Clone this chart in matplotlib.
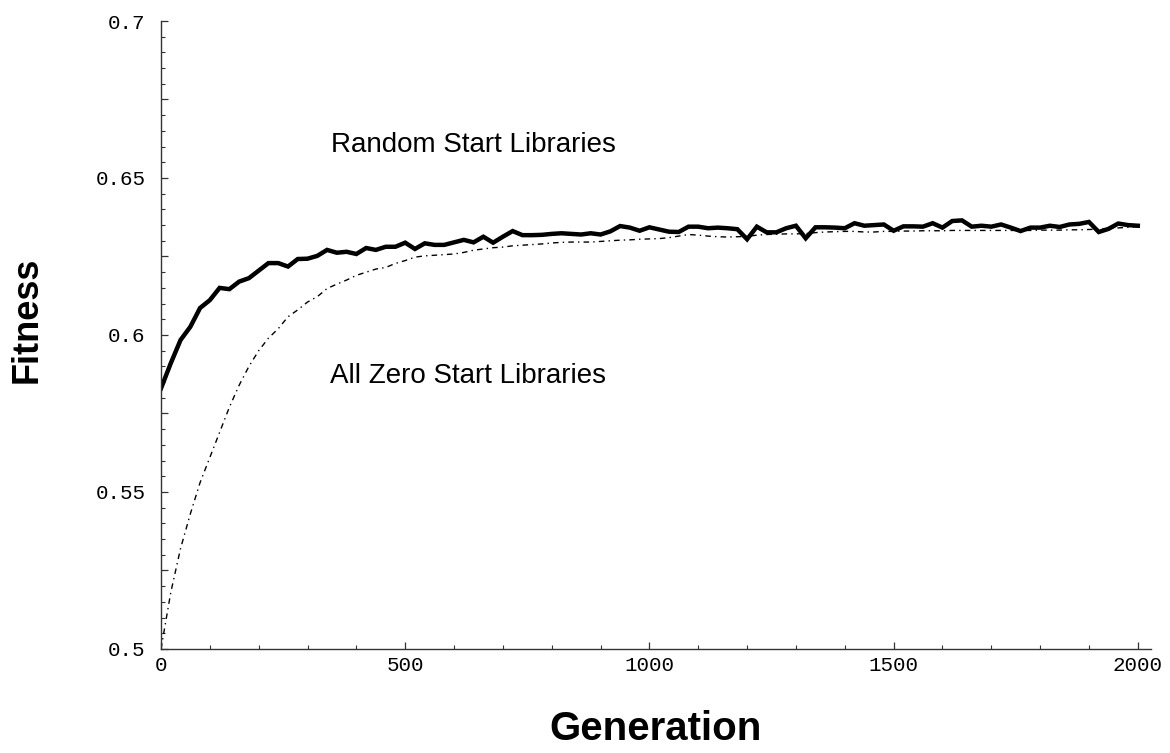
import numpy as np
import matplotlib
matplotlib.use('Agg')
import matplotlib.pyplot as plt
from matplotlib.ticker import MultipleLocator, FuncFormatter

generations = list(range(0, 2001, 20))

random_start = [
    0.5830, 0.5910, 0.5984, 0.6026, 0.6086, 0.6111, 0.6150, 0.6146, 0.6170, 0.6181,
    0.6205, 0.6229, 0.6229, 0.6218, 0.6242, 0.6243, 0.6252, 0.6271, 0.6262, 0.6265,
    0.6258, 0.6277, 0.6271, 0.6281, 0.6281, 0.6294, 0.6274, 0.6292, 0.6287, 0.6287,
    0.6295, 0.6303, 0.6295, 0.6313, 0.6294, 0.6313, 0.6331, 0.6318, 0.6318, 0.6319,
    0.6322, 0.6324, 0.6322, 0.6320, 0.6324, 0.6320, 0.6330, 0.6347, 0.6342, 0.6332,
    0.6343, 0.6336, 0.6329, 0.6328, 0.6345, 0.6345, 0.6340, 0.6342, 0.6340, 0.6337,
    0.6305, 0.6345, 0.6327, 0.6327, 0.6340, 0.6348, 0.6308, 0.6343, 0.6343, 0.6342,
    0.6340, 0.6356, 0.6348, 0.6350, 0.6352, 0.6332, 0.6346, 0.6346, 0.6345, 0.6356,
    0.6342, 0.6363, 0.6365, 0.6345, 0.6348, 0.6345, 0.6352, 0.6342, 0.6331, 0.6342,
    0.6342, 0.6348, 0.6344, 0.6352, 0.6354, 0.6360, 0.6328, 0.6338, 0.6355, 0.6350,
    0.6348,
]

zero_start = [
    0.5000, 0.5180, 0.5320, 0.5430, 0.5530, 0.5610, 0.5690, 0.5770, 0.5840, 0.5900,
    0.5950, 0.5990, 0.6020, 0.6058, 0.6080, 0.6105, 0.6122, 0.6148, 0.6162, 0.6175,
    0.6190, 0.6200, 0.6210, 0.6215, 0.6228, 0.6237, 0.6248, 0.6252, 0.6254, 0.6256,
    0.6258, 0.6263, 0.6270, 0.6274, 0.6278, 0.6280, 0.6284, 0.6286, 0.6288, 0.6290,
    0.6293, 0.6295, 0.6296, 0.6296, 0.6296, 0.6298, 0.6300, 0.6302, 0.6303, 0.6305,
    0.6306, 0.6307, 0.6310, 0.6315, 0.6320, 0.6318, 0.6315, 0.6313, 0.6312, 0.6313,
    0.6314, 0.6318, 0.6320, 0.6321, 0.6322, 0.6322, 0.6323, 0.6326, 0.6328, 0.6329,
    0.6330, 0.6330, 0.6328, 0.6328, 0.6330, 0.6330, 0.6331, 0.6331, 0.6332, 0.6332,
    0.6332, 0.6333, 0.6333, 0.6333, 0.6333, 0.6333, 0.6333, 0.6333, 0.6333, 0.6333,
    0.6334, 0.6334, 0.6334, 0.6335, 0.6335, 0.6336, 0.6337, 0.6339, 0.6341, 0.6343,
    0.6345,
]

x_ticks = [0, 500, 1000, 1500, 2000]
y_ticks = [0.5, 0.55, 0.6, 0.65, 0.7]


def plot():
    fig = plt.figure(figsize=(11.7, 7.53), dpi=100)
    ax = fig.add_axes([161 / 1170, 1 - 649 / 753, 990 / 1170, 628 / 753])

    ax.plot(generations, random_start, color='black', lw=3.2, solid_joinstyle='miter')
    ax.plot(generations, zero_start, color='black', lw=1.0, linestyle=(0, (4, 3, 1, 3)))

    ax.set_xlim(0, 2027)
    ax.set_ylim(0.5, 0.7)

    for side in ('top', 'right'):
        ax.spines[side].set_visible(False)
    for side in ('left', 'bottom'):
        ax.spines[side].set_linewidth(1.0)
        ax.spines[side].set_color('#333333')

    ax.xaxis.set_major_locator(MultipleLocator(500))
    ax.xaxis.set_minor_locator(MultipleLocator(100))
    ax.yaxis.set_major_locator(MultipleLocator(0.025))
    ax.yaxis.set_minor_locator(MultipleLocator(0.005))

    def ylab(v, pos):
        for t in y_ticks:
            if abs(v - t) < 1e-6:
                return '%g' % t
        return ''

    ax.yaxis.set_major_formatter(FuncFormatter(ylab))
    ax.xaxis.set_major_formatter(FuncFormatter(lambda v, pos: '%d' % v if int(round(v)) in x_ticks else ''))

    ax.tick_params(which='major', direction='in', length=5, width=0.9, color='#333333')
    ax.tick_params(which='minor', direction='in', length=3, width=0.8, color='#333333')
    ax.tick_params(axis='y', which='major', pad=11)
    ax.tick_params(axis='x', which='major', pad=5)
    for lab in ax.get_xticklabels() + ax.get_yticklabels():
        lab.set_fontfamily('Liberation Mono')
        lab.set_fontsize(15)

    ax.set_xlabel('Generation', fontfamily='Liberation Sans', fontweight='bold', fontsize=29)
    ax.set_ylabel('Fitness', fontfamily='Liberation Sans', fontweight='bold', fontsize=26)
    ax.xaxis.set_label_coords(0.5, -0.128)
    ax.xaxis.label.set_va('center')
    ax.yaxis.set_label_coords(-0.1354, 0.524)
    ax.yaxis.label.set_va('center')

    ax.text(348, 0.6583, 'Random Start Libraries', fontfamily='Liberation Sans', fontsize=20, va='baseline')
    ax.text(346, 0.5847, 'All Zero Start Libraries', fontfamily='Liberation Sans', fontsize=20, va='baseline')

    fig.savefig('out.png', dpi=100)


if __name__ == "__main__":
    plot()
